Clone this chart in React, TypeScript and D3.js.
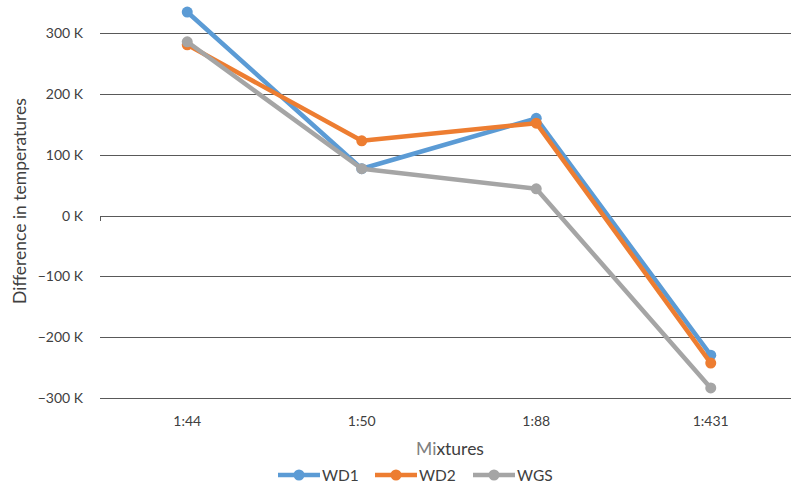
import React from "react";
import * as d3 from "d3";

const categories = ["1:44", "1:50", "1:88", "1:431"];
const wd1 = [335, 77, 160, -230];
const wd2 = [281, 123, 152, -243];
const wgs = [286, 77, 44, -284];
const yTicks = [300, 200, 100, 0, -100, -200, -300];

const seriesList = [
  { name: "WD1", values: wd1, color: "#5B9BD5" },
  { name: "WD2", values: wd2, color: "#ED7D31" },
  { name: "WGS", values: wgs, color: "#A5A5A5" },
];

const W = 791;
const H = 485;
const FONT = "Lato, 'Open Sans', sans-serif";

const fmt = (v: number) => (v < 0 ? "\u2212" + Math.abs(v) : String(v)) + " K";

export default function App() {
  const x = d3.scalePoint<string>().domain(categories).range([100, 798]).padding(0.5);
  const y = d3.scaleLinear().domain([-300, 300]).range([397.7, 33.3]);
  const line = d3
    .line<number>()
    .x((_, i) => x(categories[i]) as number)
    .y((d) => y(d));

  const legendItems = [
    { ...seriesList[0], lx: 278, tx: 322 },
    { ...seriesList[1], lx: 375, tx: 419 },
    { ...seriesList[2], lx: 473, tx: 517 },
  ];

  return (
    <svg
      width={W}
      height={H}
      style={{ position: "absolute", left: 0, top: 0, background: "#fff" }}
      fontFamily={FONT}
    >
      {/* gridlines */}
      {yTicks.map((t) => (
        <line key={t} x1={100} x2={W} y1={Math.round(y(t)) + 0.5} y2={Math.round(y(t)) + 0.5} stroke="#595959" strokeWidth={1} />
      ))}
      <line x1={100.5} x2={100.5} y1={Math.round(y(0)) + 0.5} y2={Math.round(y(0)) + 5} stroke="#595959" strokeWidth={1} />

      {/* y tick labels */}
      {yTicks.map((t) => (
        <text key={t} x={83} y={y(t) + 5} textAnchor="end" fontSize={14} fill="#404040">
          {fmt(t)}
        </text>
      ))}

      {/* x tick labels */}
      {categories.map((c) => (
        <text key={c} x={x(c) as number} y={426} textAnchor="middle" fontSize={14} fill="#404040">
          {c}
        </text>
      ))}

      {/* axis titles */}
      <text
        transform={`translate(26,201) rotate(-90)`}
        textAnchor="middle"
        fontSize={17.5}
        fill="#404040"
      >
        Difference in temperatures
      </text>
      <text x={450} y={455} textAnchor="middle" fontSize={17.5} fill="#404040">
        <tspan fill="#808080">Mi</tspan>xtures
      </text>

      {/* series */}
      {seriesList.map((s) => (
        <g key={s.name}>
          <path d={line(s.values) || ""} fill="none" stroke={s.color} strokeWidth={4.5} strokeLinejoin="round" />
          {s.values.map((v, i) => (
            <circle key={i} cx={x(categories[i]) as number} cy={y(v)} r={5.5} fill={s.color} />
          ))}
        </g>
      ))}

      {/* legend */}
      {legendItems.map((s) => (
        <g key={s.name}>
          <line x1={s.lx} x2={s.lx + 42} y1={475} y2={475} stroke={s.color} strokeWidth={4.5} />
          <circle cx={s.lx + 21} cy={475} r={5.5} fill={s.color} />
          <text x={s.tx} y={481} fontSize={15.5} fill="#404040">
            {s.name}
          </text>
        </g>
      ))}
    </svg>
  );
}
